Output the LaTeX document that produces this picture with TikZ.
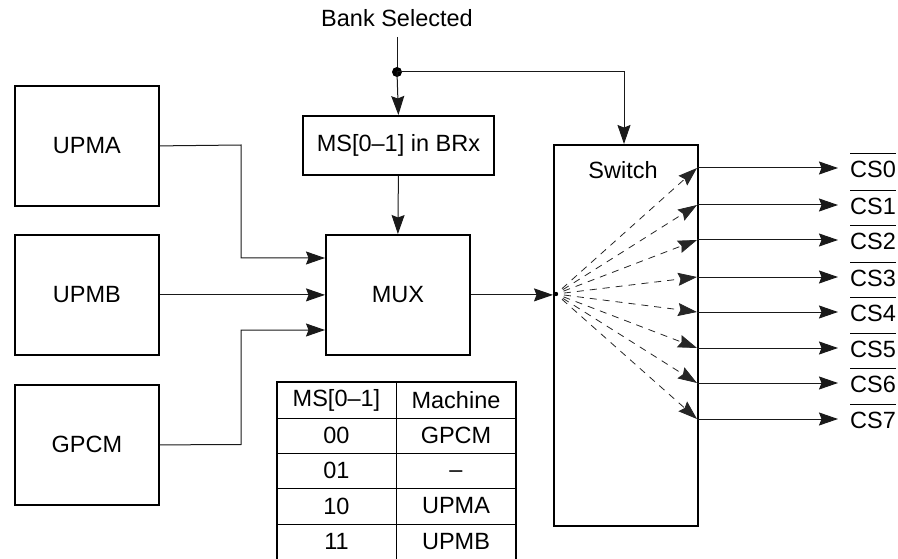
\documentclass[tikz,border=0pt]{standalone}
\usepackage{fontspec}
\setmainfont{Liberation Sans}
\usetikzlibrary{arrows.meta,calc}
\begin{document}
\begin{tikzpicture}[x=1pt,y=-1pt,
  font=\fontsize{23.5}{26}\selectfont,
  blk/.style={draw,line width=1.8pt,inner sep=0pt,anchor=north west},
  conn/.style={line width=1pt,draw=black!90},
  tip/.tip={Stealth[length=19pt,width=13pt,inset=2.5pt]},
  arr/.style={conn,-tip},
  fan/.style={line width=0.8pt,draw=black!85,dash pattern=on 7pt off 6pt,-tip,shorten <=8pt},
  lab/.style={inner sep=0pt},
]
\useasboundingbox (0,0) rectangle (898,559);

% boxes
\node[blk,minimum width=144pt,minimum height=120pt] (upma) at (14,85) {};
\node at (upma.center) (upmat) {UPMA};
\node[blk,minimum width=144pt,minimum height=120pt] (upmb) at (14,234) {};
\node at (upmb.center) (upmbt) {UPMB};
\node[blk,minimum width=144pt,minimum height=120pt] (gpcm) at (14,384) {};
\node at (gpcm.center) (gpcmt) {GPCM};
\node[blk,minimum width=144pt,minimum height=120pt] (mux) at (325,234) {};
\node at (mux.center) (muxt) {MUX};
\node[blk,minimum width=191pt,minimum height=59pt] (ms) at (302,115) {};
\node at (ms.center) (mst) {MS[0–1] in BRx};
\node[blk,minimum width=144pt,minimum height=381pt] (sw) at (553,144) {};
\node (swt) at (623,170) {Switch};

% bank selected
\node[lab] (bank) at (397,18) {Bank Selected};
\coordinate (j) at (397,72);
\draw[conn] (397,37) -- (j);
\fill (j) circle (5pt);
\draw[arr] (j) -- (ms.north);
\draw[arr] (j) -| (624,144);
\draw[arr] (ms.south) -- (mux.north);

% inputs to mux
\draw[arr] (upma.east) -- (241,145) |- (325,258);
\draw[arr] (upmb.east) -- (mux.west);
\draw[arr] (gpcm.east) -- (241,444.5) |- (325,330);

% mux to switch
\coordinate (src) at (556,294);
\draw[arr] (mux.east) -- (mux.east -| sw.west);
\fill (src) circle (2.2pt);

% outputs
\foreach \i/\y in {0/168,1/205,2/240,3/277,4/312,5/348,6/383,7/419}{
  \coordinate (o\i) at (697,\y);
  \draw[fan] (src) -- (o\i);
  \draw[arr] (o\i) -- (838,\y);
  \node[lab,anchor=west] (cs\i) at (850,\y+1) {CS\i};
  \draw[line width=1.5pt] ($(cs\i.north west)+(0,-7)$) -- ($(cs\i.north east)+(0,-7)$);
}

% table
\draw[line width=1.6pt] (277,559) -- (277,382) -- (516,382) -- (516,559);
\draw[line width=1pt] (396,382) -- (396,559);
\foreach \y in {418,453,488,524}{\draw[line width=1pt] (277,\y) -- (516,\y);}
\node (t00) at (336.5,400) {MS[0–1]};
\node (t01) at (456,400) {Machine};
\node (t10) at (336.5,435.5) {00};
\node (t11) at (456,435.5) {GPCM};
\node (t20) at (336.5,470.5) {01};
\node (t21) at (456,474) {–};
\node (t30) at (336.5,506) {10};
\node (t31) at (456,506) {UPMA};
\node (t40) at (336.5,541.5) {11};
\node (t41) at (456,541.5) {UPMB};
\end{tikzpicture}
\end{document}
